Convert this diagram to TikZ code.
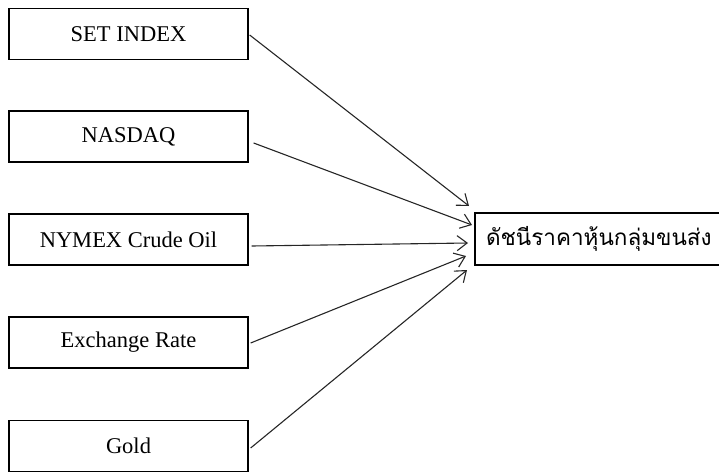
\documentclass[tikz,border=0pt]{standalone}
\usepackage{fontspec}
\setmainfont{Liberation Serif}
\newfontfamily\thaifont[Script=Thai]{Loma}
\usetikzlibrary{arrows.meta}
\begin{document}
\begin{tikzpicture}[x=1pt,y=-1pt,
  srcbox/.style={draw=black,line width=1.3pt,minimum width=239pt,minimum height=51pt,inner sep=0pt,font=\fontsize{22.5}{25}\selectfont},
  tgtbox/.style={draw=black,line width=1.3pt,minimum width=247pt,minimum height=52pt,inner sep=0pt,font=\thaifont\fontsize{22.5}{26}\selectfont},
  link/.style={draw=black!85,line width=1.1pt,-{Straight Barb[length=10pt,width=15pt,line width=1.1pt]}}]
\useasboundingbox (0,0) rectangle (719,471);
\node[srcbox] (a) at (128.5,34) {SET INDEX};
\node[srcbox] (b) at (128.5,136.5) {NASDAQ};
\node[srcbox] (c) at (128.5,239.5) {NYMEX Crude Oil};
\node[srcbox] (d) at (128.5,342.5) {Exchange Rate};
\node[srcbox] (e) at (128.5,446) {Gold};
\node[tgtbox,text width=225pt,align=left] (t) at (598.5,239) {{\thaifont ดัชนีราคาหุ้นกลุ่มขนส่ง}};
\coordinate (ta) at (469,206);
\coordinate (tb) at (472,225);
\coordinate (tc) at (468,243);
\coordinate (td) at (466,256);
\coordinate (te) at (467,270);
\draw[link] ([xshift=1pt,yshift=-1pt]a.east) -- (ta);
\draw[link] ([xshift=5pt,yshift=-6.5pt]b.east) -- (tb);
\draw[link] ([xshift=3pt,yshift=-6.5pt]c.east) -- (tc);
\draw[link] ([xshift=2pt,yshift=-0.5pt]d.east) -- (td);
\draw[link] ([xshift=2pt,yshift=-2pt]e.east) -- (te);
\end{tikzpicture}
\end{document}
